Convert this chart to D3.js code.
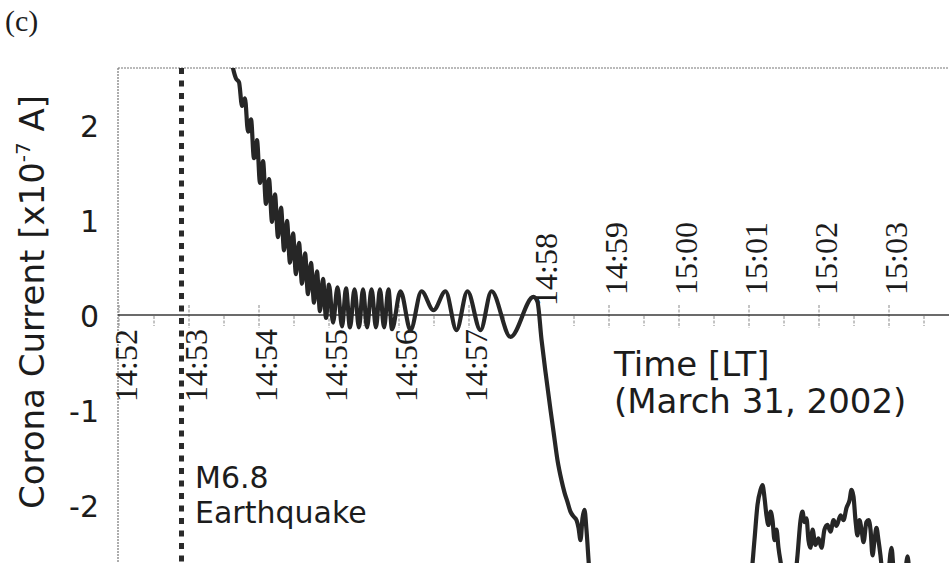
<!DOCTYPE html>
<html><head><meta charset="utf-8">
<script src="https://cdn.jsdelivr.net/npm/d3@7"></script>
<style>
html,body{margin:0;padding:0;background:#fff;}
svg{display:block;}
</style></head>
<body>
<svg id="chart" width="949" height="563"></svg>
<script>
// ---------- data ----------
const panelLabel = "(c)";
const yTitleMain = "Corona Current [x10";
const yTitleSup = "-7";
const yTitleEnd = " A]";
const timeTitle = ["Time [LT]", "(March 31, 2002)"];
const quakeLabel = ["M6.8", "Earthquake"];
const quakeSecond = 54; // seconds after 14:52:00

const xTickSeconds = [0, 60, 120, 180, 240, 300, 360, 420, 480, 540, 600, 660];
const xTickLabels = ["14:52","14:53","14:54","14:55","14:56","14:57","14:58","14:59","15:00","15:01","15:02","15:03"];
const xHalfTickSeconds = [30, 90, 150, 210, 270, 330, 390, 450, 510, 570, 630, 690];
const yTickValues = [-2, -1, 0, 1, 2];
const yTickLabels = ["-2", "-1", "0", "1", "2"];

// time in seconds after 14:52:00 LT, current in units of 1e-7 A
const seconds = [93.9, 98.1, 100.7, 103.3, 105.9, 108.4, 111.0, 113.6, 116.1, 118.7,
  121.3, 123.9, 126.4, 129.0, 131.6, 134.1, 136.7, 139.3, 141.9, 144.4,
  147.0, 149.6, 152.1, 154.7, 157.3, 159.9, 162.4, 165.0, 167.6, 170.1,
  172.7, 175.3, 177.9, 180.4, 183.9, 187.7, 191.6, 195.0, 198.4, 202.3,
  206.1, 209.6, 213.0, 216.9, 220.7, 224.1, 227.6, 231.4, 234.4,
  241.7, 250.3, 259.7, 270.0, 280.3, 289.7, 299.1, 310.3, 319.7, 336.0,
  355.7, 359.1, 362.6, 366.0, 370.3, 372.9, 376.3, 379.7, 382.3, 384.9,
  387.4, 390.0, 392.6, 394.3, 396.0, 397.7, 399.4, 401.1, 402.9, 404.6,
  413.1, 498.9, 537.4, 541.7, 545.1, 547.7, 550.3, 552.0, 553.7, 555.4,
  557.1, 558.9, 560.6, 562.3, 564.0, 565.7, 568.3, 570.9, 576.0, 579.4,
  582.0, 584.6, 586.3, 588.0, 589.7, 591.4, 593.1, 594.9, 597.4, 600.0,
  602.6, 605.1, 607.7, 610.3, 612.9, 615.4, 618.9, 621.4, 624.0, 626.6,
  628.3, 630.0, 631.7, 633.4, 635.1, 636.9, 638.6, 641.1, 642.9, 644.6,
  646.3, 648.0, 649.7, 651.4, 653.1, 654.9, 658.3, 662.6, 665.1, 672.9,
  676.3, 678.9, 696.0, 712.3];
const current = [2.89, 2.60, 2.49, 2.45, 2.20, 2.28, 1.93, 2.06, 1.65, 1.84,
  1.39, 1.62, 1.17, 1.43, 0.98, 1.27, 0.82, 1.13, 0.68, 0.99,
  0.55, 0.86, 0.43, 0.76, 0.33, 0.65, 0.22, 0.55, 0.13, 0.46,
  0.04, 0.38, -0.03, 0.32, -0.08, 0.29, -0.12, 0.28, -0.13, 0.27,
  -0.13, 0.27, -0.13, 0.27, -0.13, 0.27, -0.13, 0.27, -0.15,
  0.25, -0.16, 0.25, 0.05, 0.25, -0.16, 0.25, -0.16, 0.25, -0.23,
  0.19, 0.14, -0.26, -0.60, -1.00, -1.23, -1.53, -1.74, -1.87, -1.97,
  -2.07, -2.12, -2.16, -2.24, -2.37, -2.14, -2.05, -2.26, -2.58, -2.89,
  -3.20, -3.26, -3.11, -2.84, -2.37, -2.00, -1.84, -1.79, -1.92, -2.11,
  -2.21, -2.07, -2.16, -2.37, -2.26, -2.45, -2.66, -2.89, -3.00, -2.84,
  -2.53, -2.16, -2.07, -2.18, -2.14, -2.37, -2.45, -2.26, -2.42, -2.35,
  -2.45, -2.26, -2.21, -2.28, -2.16, -2.22, -2.11, -2.16, -2.03, -1.95,
  -1.84, -1.91, -2.16, -2.32, -2.16, -2.26, -2.39, -2.18, -2.16, -2.26,
  -2.53, -2.37, -2.24, -2.37, -2.53, -2.74, -2.89, -2.45, -2.79, -2.89,
  -2.54, -2.84, -3.00, -3.00];

// ---------- drawing ----------
(function () {
const svg = d3.select("#chart");
const ink = "#1c1c1c";
const sans = "'DejaVu Sans', Verdana, sans-serif";
const serif = "'Liberation Serif', 'Times New Roman', serif";
const pL = 118, pT = 68, pR = 949, pB = 563;

const x = d3.scaleLinear().domain([0, 720]).range([118.5, 958.5]);
const y = d3.scaleLinear().domain([-2.6, 2.6]).range([562, 68]);

svg.append("rect").attr("width", 949).attr("height", 563).attr("fill", "#fff");

// panel label
svg.append("text").attr("x", 5).attr("y", 31).attr("font-family", serif)
  .attr("font-size", 30).attr("fill", ink).text(panelLabel);

// frame (faint dotted top and left)
svg.append("line").attr("x1", pL).attr("x2", pR).attr("y1", pT).attr("y2", pT)
  .attr("stroke", "#777").attr("stroke-width", 1.2).attr("stroke-dasharray", "2,1");
svg.append("line").attr("x1", pL).attr("x2", pL).attr("y1", pT).attr("y2", pB)
  .attr("stroke", "#777").attr("stroke-width", 1.2).attr("stroke-dasharray", "2,1");

// x axis line at zero with ticks
const y0 = y(0);
const xAxisG = svg.append("g").attr("transform", `translate(0,${y0})`)
  .call(d3.axisBottom(x).tickValues(xTickSeconds).tickSize(23).tickSizeOuter(0).tickFormat(""));
xAxisG.select(".domain").remove();
xAxisG.selectAll(".tick line").attr("y1", -10).attr("y2", 13)
  .attr("stroke", "#888").attr("stroke-width", 1).attr("stroke-dasharray", "3,1.5");
const xHalfG = svg.append("g").attr("transform", `translate(0,${y0})`)
  .call(d3.axisBottom(x).tickValues(xHalfTickSeconds).tickSize(11).tickSizeOuter(0).tickFormat(""));
xHalfG.select(".domain").remove();
xHalfG.selectAll(".tick line").attr("y1", 1).attr("y2", 11)
  .attr("stroke", "#888").attr("stroke-width", 1).attr("stroke-dasharray", "3,1.5");
svg.append("line").attr("x1", pL).attr("x2", pR).attr("y1", y0).attr("y2", y0)
  .attr("stroke", "#3a3a3a").attr("stroke-width", 1.5);

// rotated time labels
svg.append("g").selectAll("text").data(xTickSeconds).join("text")
  .attr("transform", (d, i) => {
    const ty = i < 6 ? y0 + 14 : (i === 6 ? y0 - 9 : y0 - 20);
    return `translate(${x(d) + 7},${ty}) rotate(-90)`;
  })
  .attr("text-anchor", (d, i) => i < 6 ? "end" : "start")
  .attr("dy", "0.35em")
  .attr("font-family", serif).attr("font-size", 32).attr("fill", ink)
  .text((d, i) => xTickLabels[i]);

// y axis labels
const yAxisG = svg.append("g").attr("transform", `translate(99,0)`)
  .call(d3.axisLeft(y).tickValues(yTickValues).tickSize(0).tickPadding(0)
    .tickFormat((d, i) => yTickLabels[i]));
yAxisG.select(".domain").remove();
yAxisG.selectAll("text").attr("font-family", sans).attr("font-size", 30)
  .attr("fill", ink).attr("dy", "0.38em");

// y title
const yt = svg.append("text").attr("transform", "translate(44,302) rotate(-90)")
  .attr("text-anchor", "middle").attr("font-family", sans).attr("font-size", 34).attr("fill", ink);
yt.append("tspan").text(yTitleMain);
yt.append("tspan").attr("font-size", 20).attr("dy", -14).text(yTitleSup);
yt.append("tspan").attr("dy", 14).text(yTitleEnd);

// time title
svg.append("g").selectAll("text").data(timeTitle).join("text")
  .attr("x", 614).attr("y", (d, i) => 376 + i * 37)
  .attr("font-family", sans).attr("font-size", 34).attr("fill", ink).text(d => d);

// clip for the data
svg.append("clipPath").attr("id", "plotclip").append("rect")
  .attr("x", pL).attr("y", pT).attr("width", pR - pL).attr("height", pB - pT);

// earthquake dotted line
svg.append("line").attr("x1", x(quakeSecond)).attr("x2", x(quakeSecond))
  .attr("y1", pT).attr("y2", pB)
  .attr("stroke", "#2a2a2a").attr("stroke-width", 5).attr("stroke-dasharray", "6,6.5");

svg.append("g").selectAll("text").data(quakeLabel).join("text")
  .attr("x", 195).attr("y", (d, i) => 488 + i * 35)
  .attr("font-family", sans).attr("font-size", 30).attr("fill", ink).text(d => d);

// data line
const pts = seconds.map((s, i) => [s, current[i]]);
const line = d3.line().x(d => x(d[0])).y(d => y(d[1])).curve(d3.curveMonotoneX);
svg.append("path").attr("clip-path", "url(#plotclip)").attr("d", line(pts))
  .attr("fill", "none").attr("stroke", "#262626").attr("stroke-width", 4.2)
  .attr("stroke-linejoin", "round");
})();
</script>
</body></html>
